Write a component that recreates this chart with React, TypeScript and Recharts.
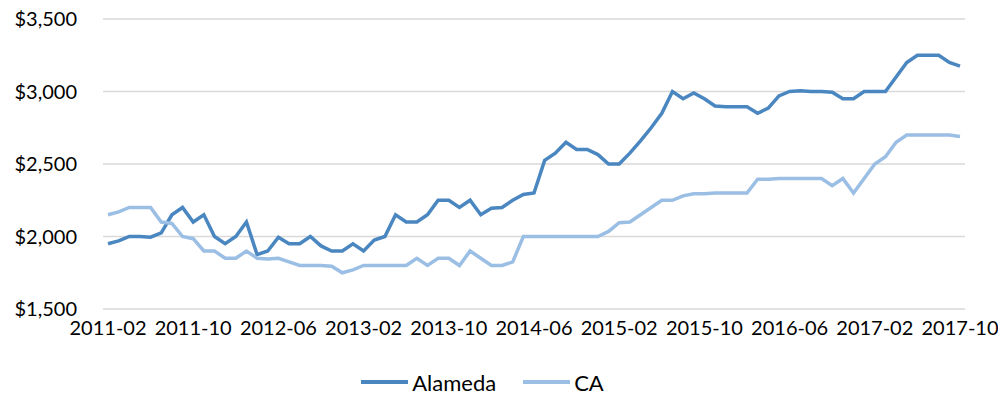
import { LineChart, Line, XAxis, YAxis, CartesianGrid, Legend } from "recharts";

// monthly labels 2011-02 .. 2017-10
const startYear = 2011;
const startMonth = 2;
const monthCount = 81;
const months: string[] = Array.from({ length: monthCount }, (_, i) => {
  const m = startMonth - 1 + i;
  const y = startYear + Math.floor(m / 12);
  const mm = (m % 12) + 1;
  return `${y}-${mm < 10 ? "0" + mm : mm}`;
});

const alameda = [
  1950, 1970, 2000, 2000, 1995, 2025, 2150, 2200, 2100, 2150,
  2000, 1950, 2000, 2100, 1875, 1900, 1995, 1950, 1950, 2000,
  1935, 1900, 1900, 1950, 1900, 1975, 2000, 2150, 2100, 2100,
  2150, 2250, 2250, 2200, 2250, 2150, 2195, 2200, 2250, 2290,
  2300, 2525, 2575, 2650, 2600, 2600, 2565, 2500, 2500, 2575,
  2660, 2750, 2850, 3000, 2950, 2990, 2950, 2900, 2895, 2895,
  2895, 2850, 2885, 2970, 3000, 3005, 3000, 3000, 2995, 2950,
  2950, 3000, 3000, 3000, 3100, 3200, 3250, 3250, 3250, 3200,
  3175,
];

const ca = [
  2150, 2170, 2200, 2200, 2200, 2100, 2090, 2000, 1985, 1900,
  1900, 1850, 1850, 1900, 1850, 1845, 1850, 1825, 1800, 1800,
  1800, 1795, 1750, 1770, 1800, 1800, 1800, 1800, 1800, 1850,
  1800, 1850, 1850, 1800, 1900, 1850, 1800, 1800, 1825, 2000,
  2000, 2000, 2000, 2000, 2000, 2000, 2000, 2035, 2095, 2100,
  2150, 2200, 2250, 2250, 2280, 2295, 2295, 2300, 2300, 2300,
  2300, 2395, 2395, 2400, 2400, 2400, 2400, 2400, 2350, 2400,
  2300, 2400, 2500, 2550, 2650, 2700, 2700, 2700, 2700, 2700,
  2690,
];

const yTicks = [1500, 2000, 2500, 3000, 3500];

const data = months.map((month, i) => ({
  month,
  Alameda: alameda[i],
  CA: ca[i],
}));

const FONT = "Lato, 'Open Sans', sans-serif";
const DARK = "#4a86bf";
const LIGHT = "#9bbfe4";

const fmtDollar = (v: number) => "$" + v.toLocaleString("en-US");

function LegendContent() {
  const items = [
    { name: "Alameda", color: DARK },
    { name: "CA", color: LIGHT },
  ];
  return (
    <div
      style={{
        display: "flex",
        justifyContent: "center",
        gap: 27,
        fontFamily: FONT,
        fontSize: 22,
        color: "#000",
        height: 26,
      }}
    >
      {items.map((it) => (
        <div key={it.name} style={{ display: "flex", alignItems: "center" }}>
          <span
            style={{
              display: "inline-block",
              width: 47,
              height: 4,
              background: it.color,
              marginRight: 4,
            }}
          />
          <span>{it.name}</span>
        </div>
      ))}
    </div>
  );
}

export default function App() {
  return (
    <div style={{ position: "absolute", left: 0, top: 0, background: "#fff" }}>
      <LineChart
        width={998}
        height={401}
        data={data}
        margin={{ top: 19, right: 33, left: 0, bottom: 36 }}
      >
        <CartesianGrid vertical={false} stroke="#d9d9d9" strokeWidth={1.5} />
        <XAxis
          dataKey="month"
          interval={7}
          axisLine={false}
          tickLine={false}
          tickSize={0}
          tickMargin={12}
          padding={{ left: 5, right: 5 }}
          tick={{ fontSize: 20, fill: "#000", fontFamily: FONT }}
        />
        <YAxis
          domain={[1500, 3500]}
          ticks={yTicks}
          width={103}
          axisLine={false}
          tickLine={false}
          tickSize={0}
          tickMargin={26}
          tickFormatter={fmtDollar}
          tick={{ fontSize: 20, fill: "#000", fontFamily: FONT }}
        />
        <Legend
          verticalAlign="bottom"
          wrapperStyle={{ bottom: 6 }}
          content={<LegendContent />}
        />
        <Line
          type="linear"
          dataKey="Alameda"
          stroke={DARK}
          strokeWidth={3.5}
          dot={false}
          isAnimationActive={false}
        />
        <Line
          type="linear"
          dataKey="CA"
          stroke={LIGHT}
          strokeWidth={3.5}
          dot={false}
          isAnimationActive={false}
        />
      </LineChart>
    </div>
  );
}
